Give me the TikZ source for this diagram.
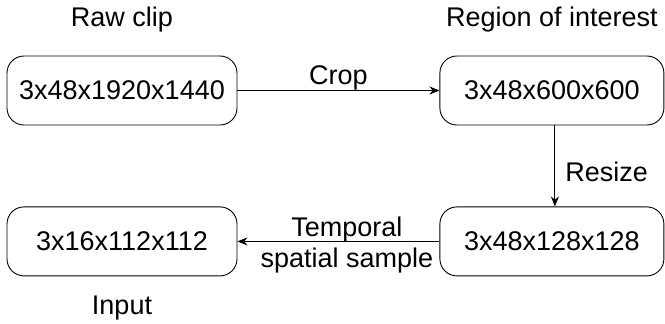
\documentclass[tikz,border=0pt]{standalone}
\usepackage{fontspec}
\setmainfont{Liberation Sans}
\usetikzlibrary{arrows.meta, positioning}

\begin{document}
\begin{tikzpicture}[
  x=1pt, y=1pt,
  every node/.style = {font=\fontsize{27}{31}\selectfont},
  box/.style   = {draw, line width=0.9pt, rounded corners=17pt, minimum height=69pt,
                  align=center, inner sep=0pt},
  caption/.style = {anchor=base, inner sep=0pt},
  arrow/.style = {line width=0.9pt, -{Stealth[length=10pt, width=8pt]}},
  node distance=81pt and 202pt
]
\useasboundingbox (0,0) rectangle (665,-324);

%--------------------------------------------------
% Tensors (boxes)
%--------------------------------------------------
\node[box, minimum width=230pt] (raw) at (122,-90.5) {3x48x1920x1440};
\node[box, minimum width=224pt, right=of raw] (roi) {3x48x600x600};
\node[box, minimum width=224pt, below=of roi] (resized) {3x48x128x128};
\node[box, minimum width=230pt] (input) at (raw |- resized) {3x16x112x112};

%--------------------------------------------------
% Captions
%--------------------------------------------------
\node[caption] (c_raw) at ([yshift=29pt]raw.north) {Raw clip};
\node[caption] (c_roi) at ([yshift=29pt]roi.north) {Region of interest};
\node[caption] (c_input) at ([yshift=-38pt]input.south) {Input};

%--------------------------------------------------
% Steps
%--------------------------------------------------
\draw[arrow] (raw) -- node[above, inner sep=0pt] {Crop} (roi);

\draw[arrow] ([xshift=3pt]roi.south) -- node[pos=0.57, right, inner sep=0pt, xshift=10pt] {Resize}
  ([xshift=3pt]resized.north);

\node[anchor=east, align=center, inner sep=0pt] (l_sample)
  at ([xshift=-6pt, yshift=-3.7pt]resized.west) {Temporal\\spatial sample};
\draw[arrow] (resized) -- (input);

\end{tikzpicture}
\end{document}
